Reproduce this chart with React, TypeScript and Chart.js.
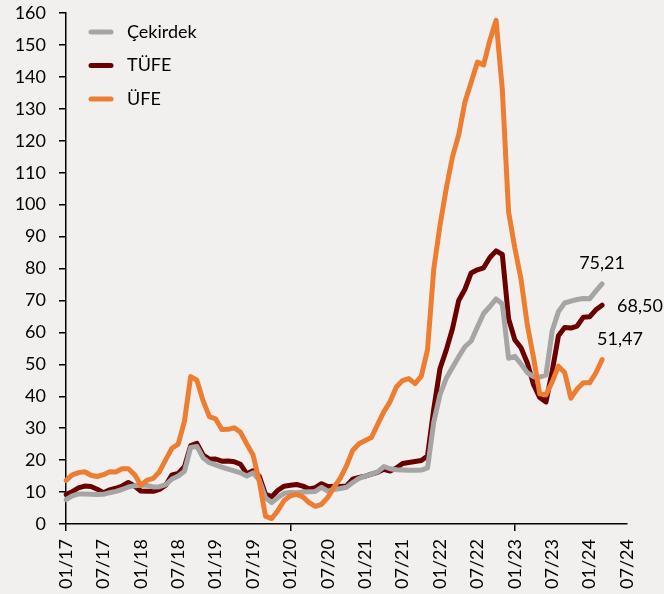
import React, { useEffect, useRef } from "react";
import { Chart, registerables } from "chart.js";

Chart.register(...registerables);

const years = ["17", "18", "19", "20", "21", "22", "23", "24"];
const months = ["01", "02", "03", "04", "05", "06", "07", "08", "09", "10", "11", "12"];
const categories = years.flatMap((y) => months.map((m) => `${m}/${y}`)).slice(0, 91);

const seriesNames = ["Çekirdek", "TÜFE", "ÜFE"];
const seriesColors = ["#a5a5a5", "#6b0000", "#ed7d31"];

const cekirdek = [
  7.6, 8.8, 9.4, 9.4, 9.3, 9.2, 9.3, 9.8, 10.2, 10.8, 11.6, 12.0,
  12.1, 12.1, 11.6, 11.7, 12.3, 14.1, 15.0, 16.5, 24.0, 24.3, 20.7, 19.2,
  18.5, 17.8, 17.2, 16.6, 16.0, 15.0, 16.0, 13.8, 8.2, 6.7, 8.3, 9.6,
  9.9, 9.8, 10.0, 10.1, 10.2, 11.5, 10.3, 10.8, 11.1, 11.5, 13.0, 14.3,
  15.0, 15.6, 16.3, 18.0, 17.3, 17.0, 16.9, 16.8, 16.8, 16.9, 17.6, 31.9,
  40.5, 45.6, 49.0, 52.4, 55.5, 57.3, 61.7, 65.9, 68.1, 70.5, 68.9, 51.9,
  52.5, 50.1, 47.4, 46.1, 46.0, 46.7, 60.5, 66.5, 69.2, 69.8, 70.3, 70.6,
  70.5, 72.9, 75.21,
];

const tufe = [
  9.22, 10.13, 11.29, 11.87, 11.72, 10.9, 9.79, 10.68, 11.2, 11.9, 12.98, 11.92,
  10.35, 10.26, 10.23, 10.85, 12.15, 15.39, 15.85, 17.9, 24.52, 25.24, 21.62, 20.3,
  20.35, 19.67, 19.71, 19.5, 18.71, 15.72, 16.65, 15.01, 9.26, 8.55, 10.56, 11.84,
  12.15, 12.37, 11.86, 10.94, 11.39, 12.62, 11.76, 11.77, 11.75, 11.89, 14.03, 14.6,
  14.97, 15.61, 16.19, 17.14, 16.59, 17.53, 18.95, 19.25, 19.58, 19.89, 21.31, 36.08,
  48.69, 54.44, 61.14, 69.97, 73.5, 78.62, 79.6, 80.21, 83.45, 85.51, 84.39, 64.27,
  57.68, 55.18, 50.51, 43.68, 39.59, 38.21, 47.83, 58.94, 61.53, 61.36, 61.98, 64.77,
  64.86, 67.07, 68.5,
];

const ufe = [
  13.69, 15.36, 16.09, 16.37, 15.26, 14.87, 15.45, 16.34, 16.28, 17.28, 17.3, 15.47,
  12.14, 13.71, 14.28, 16.37, 20.16, 23.71, 25.0, 32.13, 46.15, 45.01, 38.54, 33.64,
  32.93, 29.59, 29.64, 30.12, 28.71, 25.04, 21.66, 13.45, 2.45, 1.7, 4.26, 7.36,
  8.84, 9.26, 8.5, 6.71, 5.53, 6.17, 8.33, 11.53, 14.33, 18.2, 23.11, 25.15,
  26.16, 27.09, 31.2, 35.17, 38.33, 42.89, 44.92, 45.52, 43.96, 46.31, 54.62, 79.89,
  93.53, 105.01, 114.97, 121.82, 132.16, 138.31, 144.61, 143.75, 151.5, 157.69, 136.02, 97.72,
  86.46, 76.61, 62.45, 52.11, 40.76, 40.42, 44.5, 49.41, 47.44, 39.39, 42.25, 44.22,
  44.2, 47.29, 51.47,
];

const endLabels = ["75,21", "68,50", "51,47"];

const FONT = "Lato, 'Open Sans', sans-serif";
const TEXT = "#000000";

const legendPlugin = {
  id: "insideLegend",
  afterDatasetsDraw(chart: any) {
    const ctx = chart.ctx;
    const a = chart.chartArea;
    ctx.save();
    ctx.font = `18px ${FONT}`;
    ctx.textBaseline = "middle";
    ctx.textAlign = "left";
    seriesNames.forEach((name, i) => {
      const y = a.top + 19 + i * 33.5;
      ctx.strokeStyle = seriesColors[i];
      ctx.lineWidth = 5;
      ctx.lineCap = "round";
      ctx.beginPath();
      ctx.moveTo(a.left + 25, y);
      ctx.lineTo(a.left + 45, y);
      ctx.stroke();
      ctx.fillStyle = TEXT;
      ctx.fillText(name, a.left + 61, y);
    });
    ctx.restore();
  },
};

const endLabelPlugin = {
  id: "endLabels",
  afterDatasetsDraw(chart: any) {
    const ctx = chart.ctx;
    ctx.save();
    ctx.font = `18px ${FONT}`;
    ctx.fillStyle = TEXT;
    ctx.textBaseline = "middle";
    const offsets = [
      { dx: 0, dy: -21, align: "center" },
      { dx: 15, dy: 1, align: "left" },
      { dx: -5, dy: -20, align: "left" },
    ];
    endLabels.forEach((txt, i) => {
      const meta = chart.getDatasetMeta(i);
      const pt = meta.data[meta.data.length - 1];
      if (!pt) return;
      ctx.textAlign = offsets[i].align;
      ctx.fillText(txt, pt.x + offsets[i].dx, pt.y + offsets[i].dy);
    });
    ctx.restore();
  },
};

export default function App() {
  const ref = useRef<HTMLCanvasElement>(null);
  useEffect(() => {
    if (!ref.current) return;
    const chart = new Chart(ref.current, {
      type: "line",
      data: {
        labels: categories,
        datasets: [
          { label: seriesNames[0], data: cekirdek, borderColor: seriesColors[0], order: 1 },
          { label: seriesNames[1], data: tufe, borderColor: seriesColors[1], order: 2 },
          { label: seriesNames[2], data: ufe, borderColor: seriesColors[2], order: 0 },
        ].map((d) => ({
          ...d,
          borderWidth: 5,
          pointRadius: 0,
          tension: 0,
          fill: false,
          borderJoinStyle: "round" as const,
          borderCapStyle: "round" as const,
        })),
      },
      options: {
        animation: false,
        responsive: false,
        layout: { padding: { top: 13, right: 37, left: 0, bottom: 0 } },
        plugins: { legend: { display: false }, tooltip: { enabled: false } },
        scales: {
          x: {
            type: "category",
            offset: false,
            border: { display: true, color: "#000", width: 1.5 },
            grid: {
              display: true,
              drawOnChartArea: false,
              drawTicks: true,
              tickLength: 7,
              lineWidth: 1.5,
              color: (c: any) => (c.index % 6 === 0 ? "#000" : "rgba(0,0,0,0)"),
            },
            ticks: {
              autoSkip: false,
              maxRotation: 90,
              minRotation: 90,
              padding: 8,
              color: TEXT,
              font: { family: FONT, size: 18 },
              callback: (_v: any, i: number) => (i % 6 === 0 ? categories[i] : null),
            },
            afterFit: (s: any) => {
              s.height = 70;
              s.paddingLeft = 0;
              s.paddingRight = 0;
            },
          },
          y: {
            min: 0,
            max: 160,
            border: { display: true, color: "#000", width: 1.5 },
            grid: {
              display: true,
              drawOnChartArea: false,
              drawTicks: true,
              tickLength: 7,
              lineWidth: 1.5,
              color: "#000",
            },
            ticks: {
              stepSize: 10,
              padding: 13,
              color: TEXT,
              font: { family: FONT, size: 18 },
            },
            afterFit: (s: any) => {
              s.width = 66;
              s.paddingTop = 0;
              s.paddingBottom = 0;
            },
          },
        },
      },
      plugins: [legendPlugin, endLabelPlugin],
    });
    return () => chart.destroy();
  }, []);
  return (
    <div
      style={{
        position: "fixed",
        left: 0,
        top: 0,
        width: 664,
        height: 594,
        background: "#f2f0ef",
      }}
    >
      <canvas ref={ref} width={664} height={594} style={{ display: "block" }} />
    </div>
  );
}
